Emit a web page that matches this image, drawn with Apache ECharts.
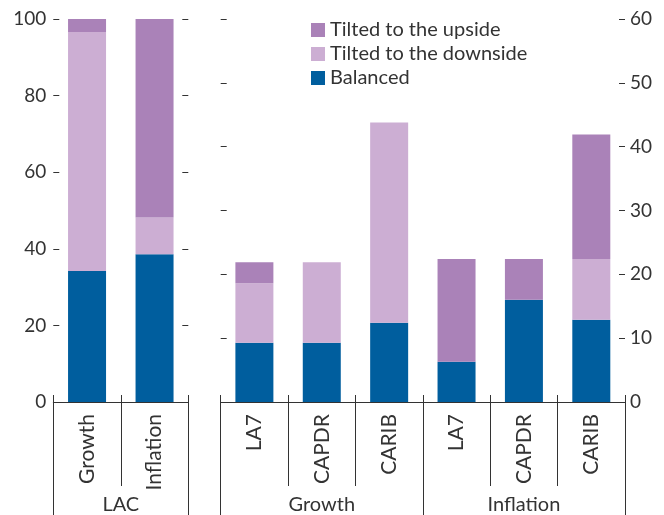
<!DOCTYPE html>
<html>
<head>
<meta charset="utf-8">
<script src="https://cdn.jsdelivr.net/npm/echarts@6/dist/echarts.min.js"></script>
<style>html,body{margin:0;padding:0;background:#fff}#c{width:664px;height:515px}</style>
</head>
<body>
<div id="c"></div>
<script>
// Left panel (LAC, percent, left axis 0-100)
const lacCategories = ['Growth', 'Inflation'];
const lacGroup = ['LAC'];
const lacBalanced = [34.2, 38.6];
const lacDownside = [62.4, 9.6];
const lacUpside = [3.4, 51.8];

// Right panel (subregions, right axis 0-60)
const subCategories = ['LA7', 'CAPDR', 'CARIB', 'LA7', 'CAPDR', 'CARIB'];
const subGroups = ['Growth', 'Inflation'];
const subBalanced = [9.3, 9.3, 12.4, 6.3, 16.0, 12.9];
const subDownside = [9.3, 12.6, 31.4, 0, 0, 9.5];
const subUpside = [3.3, 0, 0, 16.1, 6.4, 19.5];

const leftTicks = { min: 0, max: 100, interval: 20 };
const rightTicks = { min: 0, max: 60, interval: 10 };

const names = { up: 'Tilted to the upside', down: 'Tilted to the downside', bal: 'Balanced' };
const colors = { up: '#AA82B8', down: '#CCAED3', bal: '#005E9E' };

const FONT = 'Lato';
const TXT = '#333333';
const LINE = '#333333';

const chart = echarts.init(document.getElementById('c'), null, { renderer: 'canvas' });

function catAxis(grid, data, opts) {
  return Object.assign({
    type: 'category', gridIndex: grid, data: data, position: 'bottom',
    axisLine: { show: false }, axisTick: { show: false }, axisLabel: { show: false },
    splitLine: { show: false }
  }, opts);
}
function valAxis(grid, pos, ticks, showLabel, margin) {
  return {
    type: 'value', gridIndex: grid, position: pos, min: ticks.min, max: ticks.max, interval: ticks.interval,
    axisLine: { show: false },
    axisTick: { show: true, inside: true, length: 6, lineStyle: { color: LINE, width: 1 } },
    axisLabel: { show: showLabel, margin: margin, fontSize: 19, fontFamily: FONT, color: TXT },
    splitLine: { show: false }
  };
}

const mainAxisOpts = {
  axisLine: { show: true, lineStyle: { color: LINE, width: 1 } },
  axisTick: { show: true, length: 84, interval: 0, lineStyle: { color: LINE, width: 1 } },
  axisLabel: { show: true, interval: 0, rotate: 90, margin: 12, fontSize: 21, fontFamily: FONT, color: TXT }
};
const upTickOpts = {
  axisTick: { show: true, inside: true, length: 7, interval: 0, lineStyle: { color: LINE, width: 1 } }
};
const groupAxisOpts = {
  axisTick: { show: true, length: 115, interval: 0, lineStyle: { color: LINE, width: 1 } },
  axisLabel: { show: true, interval: 0, margin: 93, fontSize: 20, fontFamily: FONT, color: TXT }
};

function bar(name, key, xi, yi, data) {
  return {
    type: 'bar', name: name, stack: 's' + xi, xAxisIndex: xi, yAxisIndex: yi, data: data,
    barWidth: 38, itemStyle: { color: colors[key] }, emphasis: { disabled: true }, animation: false
  };
}

chart.setOption({
  animation: false,
  textStyle: { fontFamily: FONT },
  grid: [
    { left: 53.3, top: 19, width: 135, height: 384.3 },
    { left: 220.7, top: 19, width: 404.3, height: 384.3 }
  ],
  legend: {
    data: [names.up, names.down, names.bal],
    orient: 'vertical', left: 311, top: 20, padding: 0,
    itemWidth: 14, itemHeight: 14, itemGap: 4, icon: 'rect',
    textStyle: { fontSize: 20, fontFamily: FONT, color: TXT }
  },
  xAxis: [
    catAxis(0, lacCategories, mainAxisOpts),
    catAxis(0, lacCategories, upTickOpts),
    catAxis(0, lacGroup, groupAxisOpts),
    catAxis(1, subCategories, mainAxisOpts),
    catAxis(1, subCategories, upTickOpts),
    catAxis(1, subGroups, groupAxisOpts)
  ],
  yAxis: [
    valAxis(0, 'left', leftTicks, true, 7),
    valAxis(0, 'right', leftTicks, false, 5),
    valAxis(1, 'left', rightTicks, false, 5),
    valAxis(1, 'right', rightTicks, true, 5)
  ],
  series: [
    bar(names.bal, 'bal', 0, 0, lacBalanced),
    bar(names.down, 'down', 0, 0, lacDownside),
    bar(names.up, 'up', 0, 0, lacUpside),
    bar(names.bal, 'bal', 3, 3, subBalanced),
    bar(names.down, 'down', 3, 3, subDownside),
    bar(names.up, 'up', 3, 3, subUpside)
  ]
});
</script>
</body>
</html>
